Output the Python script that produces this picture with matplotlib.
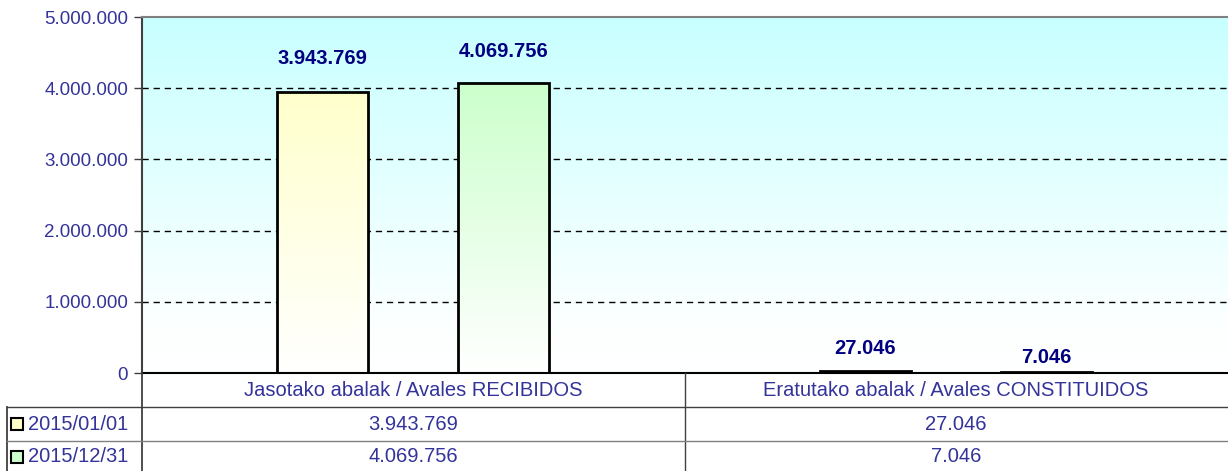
import numpy as np
import matplotlib.pyplot as plt
import matplotlib.transforms as mtransforms
from matplotlib.colors import LinearSegmentedColormap
from matplotlib.lines import Line2D
from matplotlib.patches import Rectangle

plt.rcParams['font.family'] = ['Liberation Sans', 'DejaVu Sans']

categories = ["Jasotako abalak / Avales RECIBIDOS", "Eratutako abalak / Avales CONSTITUIDOS"]
series_names = ["2015/01/01", "2015/12/31"]
values_start = [3943769, 27046]
values_end = [4069756, 7046]
yticks = [0, 1000000, 2000000, 3000000, 4000000, 5000000]

series = [values_start, values_end]
top_colors = ["#FFFFCC", "#CCFFCC"]
label_offsets = [[24, 16], [23, 11]]  # points above bar top, per series / category
text_col = "#333399"
label_col = "#000080"


def fmt(v):
    return f"{v:,}".replace(",", ".")


W, H = 1228, 471
fig = plt.figure(figsize=(W / 100, H / 100), dpi=100)


def fx(px):
    return px / W


def fy(py):
    return 1 - py / H


ax = fig.add_axes([fx(142), fy(373), fx(1227) - fx(142), fy(17) - fy(373)])

# background gradient: cyan top -> white bottom
bg = LinearSegmentedColormap.from_list(
    "bg", [(0, "#FFFFFF"), (0.12, "#FDFFFF"), (1, "#C8FFFF")])
grad = np.linspace(0, 1, 256).reshape(-1, 1)
ax.imshow(grad, extent=[-0.5, 1.5, 0, 5000000], origin="lower", aspect="auto",
          cmap=bg, zorder=0)

x = np.arange(len(categories))
width = 0.168
offs = [-0.167, 0.167]

for s, vals in enumerate(series):
    cmap = LinearSegmentedColormap.from_list(f"s{s}", ["#FFFFFF", top_colors[s]])
    for i, v in enumerate(vals):
        x0 = x[i] + offs[s] - width / 2
        ax.imshow(grad, extent=[x0, x0 + width, 0, v], origin="lower",
                  aspect="auto", cmap=cmap, zorder=2)
        ax.add_patch(Rectangle((x0, 0), width, v, fill=False, edgecolor="black",
                               lw=2, zorder=3))
        ax.annotate(fmt(v), (x[i] + offs[s], v), xytext=(0, label_offsets[s][i]),
                    textcoords="offset points", ha="center", va="center",
                    fontsize=14.5, fontweight="bold", color=label_col, zorder=4)

ax.set_xlim(-0.5, 1.5)
ax.set_ylim(0, 5000000)
ax.set_yticks(yticks)
ax.set_yticklabels([fmt(t) for t in yticks], fontsize=13.5, color=text_col)
ax.set_xticks([])
ax.tick_params(axis="y", direction="out", length=6, color="#404040", width=1, pad=4)
for t in yticks[1:-1]:
    ax.axhline(t, color="black", lw=1, ls=(0, (4.5, 3.5)), zorder=1)

ax.spines["left"].set_color("#404040")
ax.spines["left"].set_linewidth(1.5)
ax.spines["top"].set_color("#808080")
ax.spines["top"].set_linewidth(1.5)
ax.spines["right"].set_visible(False)
ax.spines["bottom"].set_color("black")
ax.spines["bottom"].set_linewidth(1.5)
ax.spines["bottom"].set_zorder(5)

# data table below the chart
blend = mtransforms.blended_transform_factory(ax.transData, fig.transFigure)
line_col = "#404040"


def fig_line(xs, ys, transform=fig.transFigure, color=line_col, lw=1):
    fig.add_artist(Line2D(xs, ys, transform=transform, color=color, lw=lw))


fig_line([fx(142), fx(142)], [fy(373), fy(471)], lw=1.3)
fig_line([fx(7), fx(7)], [fy(407), fy(471)], lw=1.3)
fig_line([0.5, 0.5], [fy(373), fy(471)], transform=blend)
fig_line([fx(7), fx(1228)], [fy(407), fy(407)])
fig_line([fx(7), fx(1228)], [fy(441), fy(441)], color="#808080")

row_y = [424, 457]
for i, cat in enumerate(categories):
    fig.text(x[i], fy(390), cat, transform=blend, ha="center", va="center",
             fontsize=14.5, color=text_col)
    for s, vals in enumerate(series):
        fig.text(x[i], fy(row_y[s]), fmt(vals[i]), transform=blend,
                 ha="center", va="center", fontsize=14.5, color=text_col)

for s, name in enumerate(series_names):
    fig.add_artist(Rectangle((fx(11), fy(row_y[s] + 6)), fx(12), fy(0) - fy(12),
                             transform=fig.transFigure, facecolor=top_colors[s],
                             edgecolor="black", lw=1.5))
    fig.text(fx(28), fy(row_y[s]), name, ha="left", va="center", fontsize=14.5,
             color=text_col)

fig.savefig("out.png", dpi=100)
